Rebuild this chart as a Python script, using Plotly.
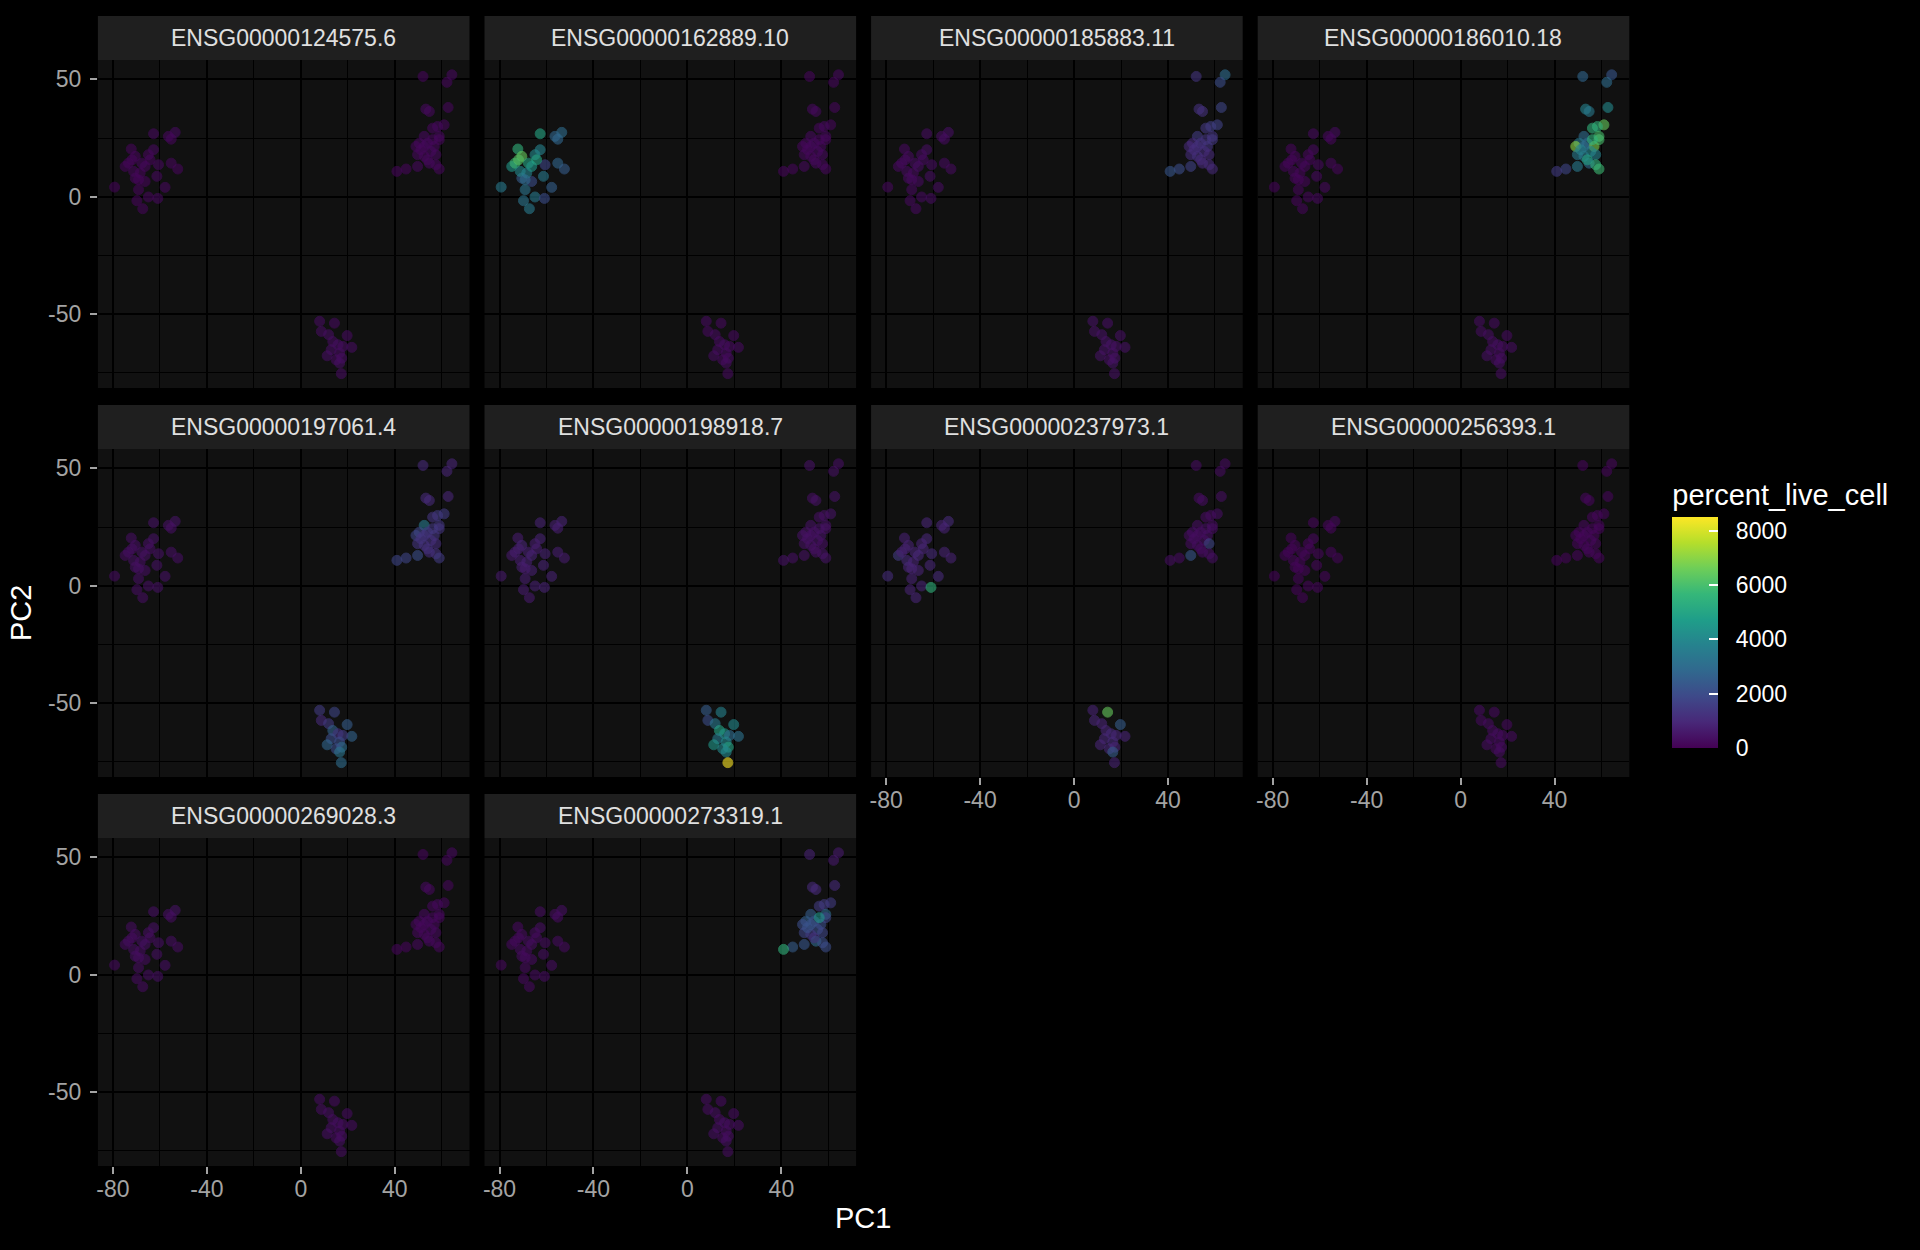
import plotly.graph_objects as go

# ---------------- data ----------------
genes = ["ENSG00000124575.6", "ENSG00000162889.10", "ENSG00000185883.11", "ENSG00000186010.18",
         "ENSG00000197061.4", "ENSG00000198918.7", "ENSG00000237973.1", "ENSG00000256393.1",
         "ENSG00000269028.3", "ENSG00000273319.1"]

# sample coordinates (left cluster, right cluster, bottom cluster)
pc1_left = [-62.7, -55.2, -53.5, -56.4, -72.2, -62.7, -64.9, -70.5, -74.8, -73.4, -67.7, -60.6, -55.2, -52.4, -61.3,
            -70.5, -66.3, -57.8, -79.3, -69.1, -64.9, -60.9, -69.8, -67.3, -71.2, -68.4, -66.3, -64.2, -69.1, -71.9]
pc2_left = [26.8, 24.5, 27.4, 25.7, 20.3, 20.0, 17.9, 17.2, 12.9, 14.3, 14.3, 13.6, 14.3, 11.8, 8.7,
            7.9, 6.5, 4.0, 4.1, 3.0, -0.1, -0.7, -1.7, -5.1, 10.8, 10.1, 12.9, 15.7, 7.2, 15.7]
pc1_right = [52.0, 64.3, 62.2, 62.7, 53.2, 54.7, 61.0, 58.2, 56.1, 52.5, 58.9, 50.4, 49.0, 53.9, 56.8,
             58.9, 55.4, 57.5, 49.7, 52.5, 54.7, 57.5, 58.9, 49.7, 44.8, 40.9, 52.5, 56.1, 51.1, 53.9]
pc2_right = [51.2, 51.9, 48.7, 38.0, 37.3, 36.3, 30.6, 29.9, 29.2, 25.7, 25.7, 22.8, 21.4, 22.8, 21.4,
             24.3, 19.3, 17.9, 17.9, 17.2, 14.3, 13.6, 11.8, 12.9, 11.8, 10.8, 21.4, 24.3, 20.0, 15.7]
pc1_bottom = [8.0, 14.3, 8.7, 11.8, 19.7, 13.6, 15.8, 21.7, 17.9, 12.9, 16.5, 11.2, 17.4, 15.0, 16.5, 17.2]
pc2_bottom = [-53.0, -53.8, -57.3, -58.7, -59.1, -61.6, -63.0, -64.1, -63.7, -65.1, -66.5, -67.7, -68.7, -69.4, -70.8, -75.3]

PC1 = pc1_left + pc1_right + pc1_bottom
PC2 = pc2_left + pc2_right + pc2_bottom

# percent_live_cell per gene (order: left 30, right 30, bottom 16)
v_124575 = [200, 150, 250, 180, 120, 220, 160, 140, 100, 130, 180, 200, 160, 140, 210, 170, 150, 190, 90, 130, 170, 200, 120, 110, 160, 140, 180, 150, 130, 120,
            150, 200, 180, 170, 220, 190, 160, 210, 180, 230, 200, 190, 170, 210, 180, 160, 220, 200, 190, 170, 210, 180, 160, 190, 140, 120, 200, 180, 170, 190,
            300, 250, 280, 320, 260, 300, 350, 280, 270, 310, 290, 330, 300, 260, 340, 280]
v_162889 = [5000, 2800, 3000, 2800, 5500, 3800, 4000, 6500, 4500, 5800, 5000, 1800, 2800, 2500, 3500, 2500, 2000, 2600, 3500, 3300, 3500, 2000, 3300, 3500, 4000, 3800, 4500, 5000, 3000, 6200,
            150, 200, 180, 170, 220, 190, 160, 210, 180, 230, 200, 190, 170, 210, 180, 160, 220, 200, 190, 170, 210, 180, 160, 190, 140, 120, 200, 180, 170, 190,
            250, 200, 230, 270, 220, 250, 300, 240, 230, 260, 250, 280, 250, 220, 290, 240]
v_185883 = [300, 250, 350, 280, 220, 320, 260, 240, 200, 230, 280, 300, 260, 240, 310, 270, 250, 290, 190, 230, 270, 300, 220, 210, 260, 240, 280, 250, 230, 220,
            1300, 3000, 2000, 1800, 1200, 1200, 1700, 1600, 1400, 1500, 1300, 1000, 1000, 1200, 1300, 1400, 1100, 1000, 1100, 1200, 1000, 1000, 1000, 1700, 2000, 2300, 1200, 1300, 1100, 1000,
            400, 350, 380, 420, 360, 400, 450, 380, 370, 410, 390, 430, 400, 360, 440, 380]
v_186010 = [200, 150, 250, 180, 120, 220, 160, 140, 100, 130, 180, 200, 160, 140, 210, 170, 150, 190, 90, 130, 170, 200, 120, 110, 160, 140, 180, 150, 130, 120,
            2800, 2300, 3000, 4000, 3800, 3500, 6500, 5500, 5500, 3000, 6000, 3500, 7000, 3000, 6800, 6000, 4000, 3800, 3500, 3500, 3000, 5500, 5800, 3500, 1800, 1500, 3000, 5500, 3800, 5000,
            300, 250, 280, 320, 260, 300, 350, 280, 270, 310, 290, 330, 300, 260, 340, 280]
v_197061 = [400, 350, 450, 380, 320, 420, 360, 340, 300, 330, 380, 400, 360, 340, 410, 370, 350, 390, 290, 330, 370, 400, 320, 310, 360, 340, 380, 350, 330, 320,
            1000, 900, 900, 900, 1000, 1000, 1500, 1500, 1300, 3500, 1400, 1800, 1800, 1400, 1300, 1300, 1200, 1100, 1300, 1200, 1100, 1200, 1500, 2000, 1800, 1800, 1300, 1400, 1300, 1200,
            1500, 1800, 1000, 1500, 2500, 2700, 1200, 2700, 1500, 2000, 2000, 2800, 3000, 2000, 3300, 3000]
v_198918 = [800, 700, 850, 750, 650, 800, 700, 900, 600, 700, 750, 800, 700, 650, 850, 700, 750, 800, 600, 700, 750, 850, 650, 600, 700, 750, 800, 700, 650, 700,
            400, 350, 380, 420, 360, 400, 450, 380, 370, 410, 390, 430, 400, 360, 440, 380, 420, 350, 380, 400, 360, 400, 450, 380, 370, 410, 390, 430, 400, 360,
            2500, 3800, 2000, 3500, 4000, 5000, 4500, 3200, 3000, 3500, 4000, 4500, 5000, 4000, 4000, 8500]
v_237973 = [900, 800, 1000, 850, 750, 950, 850, 800, 1500, 800, 900, 1000, 850, 800, 950, 900, 850, 1000, 1100, 800, 900, 5500, 850, 900, 1000, 850, 950, 900, 850, 800,
            300, 250, 280, 320, 260, 300, 350, 280, 270, 310, 290, 330, 300, 260, 340, 280, 320, 1800, 280, 300, 260, 300, 350, 2300, 270, 310, 290, 330, 300, 260,
            800, 6500, 900, 850, 2500, 900, 1000, 850, 900, 950, 1000, 900, 850, 950, 2500, 800]
v_256393 = [150, 120, 200, 140, 100, 180, 130, 110, 80, 100, 140, 160, 130, 110, 170, 140, 120, 150, 70, 100, 130, 160, 90, 80, 130, 110, 140, 120, 100, 90,
            120, 160, 140, 130, 180, 150, 130, 170, 140, 190, 160, 150, 130, 170, 140, 120, 180, 160, 150, 130, 170, 140, 120, 150, 110, 90, 160, 140, 130, 150,
            250, 200, 230, 270, 220, 250, 300, 240, 230, 260, 250, 280, 250, 220, 290, 240]
v_269028 = [350, 300, 400, 330, 280, 370, 310, 290, 250, 280, 330, 350, 310, 290, 360, 320, 300, 340, 240, 280, 320, 350, 270, 260, 310, 290, 330, 300, 280, 270,
            150, 200, 180, 170, 220, 190, 160, 210, 180, 230, 200, 190, 170, 210, 180, 160, 220, 200, 190, 170, 210, 180, 160, 190, 140, 120, 200, 180, 170, 190,
            300, 250, 280, 320, 260, 300, 350, 280, 270, 310, 290, 330, 300, 260, 340, 280]
v_273319 = [300, 250, 350, 280, 220, 320, 260, 240, 200, 230, 280, 300, 260, 240, 310, 270, 250, 290, 190, 230, 270, 300, 220, 210, 260, 240, 280, 250, 230, 220,
            800, 600, 600, 1000, 1000, 1000, 1500, 1500, 1500, 2500, 3000, 2600, 2000, 2200, 2000, 1800, 2000, 1800, 1800, 1500, 3000, 2000, 2000, 2300, 2500, 5500, 2200, 4500, 2200, 1200,
            300, 250, 280, 320, 260, 300, 350, 280, 270, 310, 290, 330, 300, 260, 340, 280]

values = [v_124575, v_162889, v_185883, v_186010, v_197061, v_198918, v_237973, v_256393, v_269028, v_273319]

x_ticks = [-80, -40, 0, 40]
x_labels = ["-80", "-40", "0", "40"]
y_ticks = [-50, 0, 50]
y_labels = ["-50", "0", "50"]
color_ticks = [0, 2000, 4000, 6000, 8000]
color_labels = ["0", "2000", "4000", "6000", "8000"]
color_max = 8500

# ---------------- layout helpers ----------------
W, H = 1920, 1250
NCOL = 4
col_left0, col_pitch, panel_w = 96, 387, 372
row_top0, row_pitch, panel_h = 60, 389, 328
strip_h = 44
FONT = "Liberation Sans, Arial, Helvetica, sans-serif"
TICK_COL = "#a3a3a3"
NB = "\u00a0"

fig = go.Figure()
layout = dict(
    width=W, height=H, margin=dict(l=0, r=0, t=0, b=0),
    paper_bgcolor="#000000", plot_bgcolor="#111111",
    font=dict(family=FONT, color="#ffffff"), showlegend=False,
)
shapes, annotations = [], []

n = len(genes)
for i, (g, v) in enumerate(zip(genes, values)):
    r, c = divmod(i, NCOL)
    x0 = col_left0 + col_pitch * c
    y0 = row_top0 + row_pitch * r
    xdom = [x0 / W, (x0 + panel_w) / W]
    ydom = [1 - (y0 + panel_h) / H, 1 - y0 / H]
    sx = "" if i == 0 else str(i + 1)
    fig.add_trace(go.Scatter(
        x=PC1, y=PC2, mode="markers", xaxis="x" + sx, yaxis="y" + sx,
        marker=dict(size=10, color=v, colorscale="Viridis", cmin=0, cmax=color_max, opacity=0.6,
                    line=dict(width=1, color=v, colorscale="Viridis", cmin=0, cmax=color_max),
                    showscale=(i == 0),
                    colorbar=dict(
                        title=dict(text="percent_live_cell", side="top",
                                   font=dict(size=29, color="#ffffff", family=FONT)),
                        x=1672 / W, xanchor="left", y=1 - 748 / H, yanchor="bottom",
                        len=268, lenmode="pixels", thickness=46, thicknessmode="pixels",
                        outlinewidth=0, tickvals=color_ticks,
                        ticktext=[NB * 2 + t for t in color_labels],
                        ticks="inside", ticklen=9,
                        tickcolor="#ffffff", tickwidth=1.5,
                        tickfont=dict(size=23, color="#ffffff", family=FONT), ypad=0, xpad=0,
                    )),
        hoverinfo="skip",
    ))
    below = i + NCOL
    show_x = below >= n
    show_y = (c == 0)
    layout["xaxis" + sx] = dict(
        domain=xdom, range=[-86.4, 71.8], anchor="y" + sx,
        tickvals=x_ticks, ticktext=x_labels, showticklabels=show_x, ticks="outside" if show_x else "",
        ticklen=7, tickwidth=2, tickcolor=TICK_COL, ticklabelstandoff=-5,
        tickfont=dict(size=23, color=TICK_COL, family=FONT),
        showgrid=True, gridcolor="#000000", gridwidth=2.2, zeroline=False, showline=False,
        minor=dict(tickvals=[-60, -20, 20, 60], showgrid=True, gridcolor="#000000", gridwidth=1.1, ticks=""),
    )
    layout["yaxis" + sx] = dict(
        domain=ydom, range=[-81.4, 58.2], anchor="x" + sx,
        tickvals=y_ticks, ticktext=y_labels, showticklabels=show_y, ticks="outside" if show_y else "",
        ticklen=7, tickwidth=2, tickcolor=TICK_COL, ticklabelstandoff=4,
        tickfont=dict(size=23, color=TICK_COL, family=FONT),
        showgrid=True, gridcolor="#000000", gridwidth=2.2, zeroline=False, showline=False,
        minor=dict(tickvals=[-75, -25, 25], showgrid=True, gridcolor="#000000", gridwidth=1.1, ticks=""),
    )
    shapes.append(dict(type="rect", xref="paper", yref="paper",
                       x0=xdom[0], x1=xdom[1], y0=1 - y0 / H, y1=1 - (y0 - strip_h) / H,
                       fillcolor="#1f1f1f", line=dict(width=0), layer="below"))
    annotations.append(dict(text=g, xref="paper", yref="paper",
                            x=(xdom[0] + xdom[1]) / 2, y=1 - (y0 - strip_h / 2) / H,
                            xanchor="center", yanchor="middle", showarrow=False,
                            font=dict(size=23, color="#e0e0e0", family=FONT)))

annotations.append(dict(text="PC1", xref="paper", yref="paper", x=862 / W, y=1 - 1218 / H,
                        xanchor="center", yanchor="middle", showarrow=False,
                        font=dict(size=29, color="#ffffff", family=FONT)))
annotations.append(dict(text="PC2", xref="paper", yref="paper", x=19 / W, y=1 - 613 / H,
                        xanchor="center", yanchor="middle", showarrow=False, textangle=-90,
                        font=dict(size=29, color="#ffffff", family=FONT)))

layout["shapes"] = shapes
layout["annotations"] = annotations
fig.update_layout(**layout)
fig.write_html("out.html")
